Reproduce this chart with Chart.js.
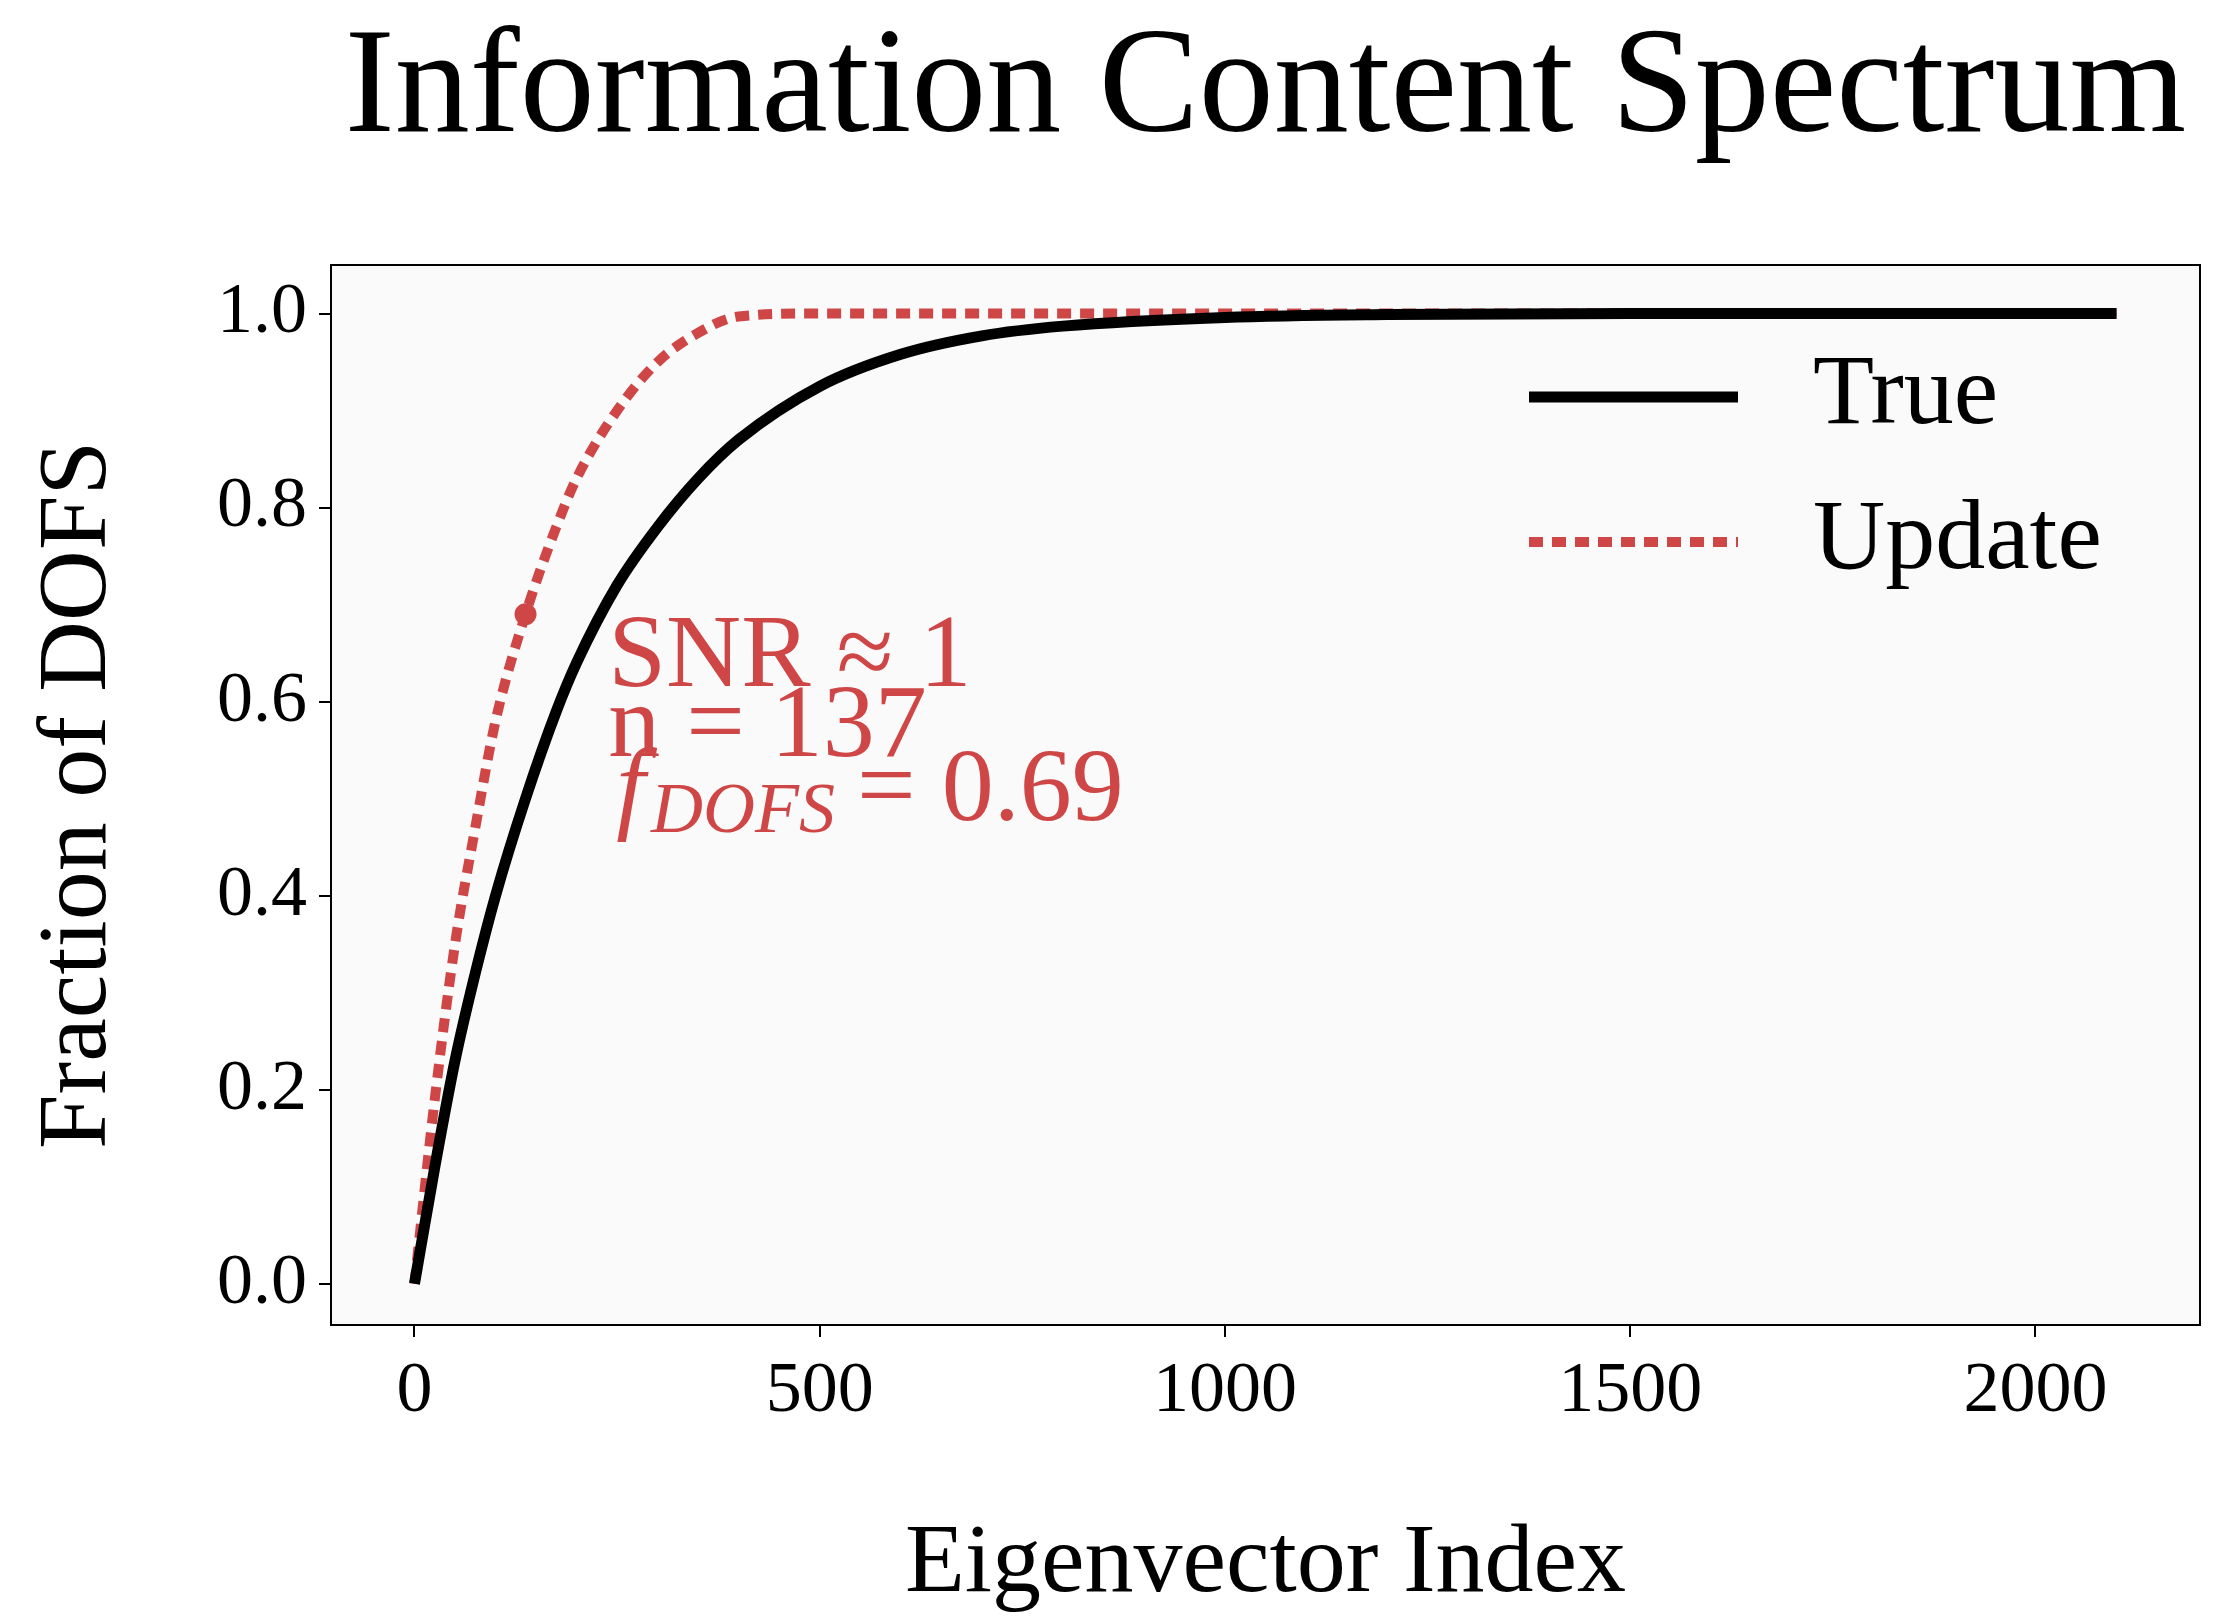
<!DOCTYPE html>
<html>
<head>
<meta charset="utf-8">
<script src="https://cdn.jsdelivr.net/npm/chart.js@4.4.0/dist/chart.umd.min.js"></script>
<style>
  html, body { margin: 0; padding: 0; background: #fff; }
  #wrap { width: 2219px; height: 1624px; }
</style>
</head>
<body>
<div id="wrap"><canvas id="chart"></canvas></div>
<script>
// values
const trueIdx = [0, 25, 50, 75, 100, 137, 175, 200, 250, 300, 350, 400, 500, 600, 700, 800, 1000, 1200, 1500, 2100];
const trueVals = [0, 0.12, 0.23, 0.32, 0.40, 0.50, 0.59, 0.64, 0.72, 0.78, 0.83, 0.87, 0.925, 0.958, 0.977, 0.987, 0.996, 0.999, 1.0, 1.0];
const updIdx = [0, 25, 50, 75, 100, 137, 175, 200, 250, 300, 350, 400, 500, 2100];
const updVals = [0, 0.19, 0.35, 0.47, 0.58, 0.69, 0.78, 0.83, 0.90, 0.95, 0.98, 0.997, 1.0, 1.0];
const snrPoint = { x: 137, y: 0.69 };
const annotLines = ['SNR \u2248 1', 'n = 137', '= 0.69'];
const xTicks = [0, 500, 1000, 1500, 2000];
const yTicks = [0, 0.2, 0.4, 0.6, 0.8, 1.0];
const seriesNames = ['True', 'Update'];
const titleText = 'Information Content Spectrum';

const RED = '#cf4647';
const FONT = '"Liberation Serif", "DejaVu Serif", serif';

const toPts = (xs, ys) => xs.map((x, i) => ({ x: x, y: ys[i] }));

const bgPlugin = {
    id: 'bg',
    beforeDraw(chart) {
        const a = chart.chartArea, ctx = chart.ctx;
        ctx.save();
        ctx.fillStyle = '#fafafa';
        ctx.fillRect(a.left, a.top, a.right - a.left, a.bottom - a.top);
        ctx.restore();
    }
};

const overlayPlugin = {
    id: 'overlay',
    afterDraw(chart) {
        const ctx = chart.ctx;
        const a = chart.chartArea;
        const xs = chart.scales.x;
        ctx.save();
        // frame
        ctx.strokeStyle = '#000';
        ctx.lineWidth = 2;
        ctx.strokeRect(a.left, a.top, a.right - a.left, a.bottom - a.top);

        // title centred over the plot
        ctx.fillStyle = '#000';
        ctx.font = '150px ' + FONT;
        ctx.textAlign = 'center';
        ctx.textBaseline = 'middle';
        ctx.fillText(titleText, (a.left + a.right) / 2, 92);
        ctx.textAlign = 'left';

        // legend
        const lx0 = 1529, lx1 = 1738, tx = 1813;
        const rows = [397, 542];
        ctx.lineCap = 'butt';
        ctx.lineWidth = 11;
        ctx.setLineDash([]);
        ctx.beginPath(); ctx.moveTo(lx0, rows[0]); ctx.lineTo(lx1, rows[0]); ctx.stroke();
        ctx.strokeStyle = RED;
        ctx.lineWidth = 10;
        ctx.setLineDash([14, 9]);
        ctx.beginPath(); ctx.moveTo(lx0, rows[1]); ctx.lineTo(lx1, rows[1]); ctx.stroke();
        ctx.setLineDash([]);
        ctx.font = '100px ' + FONT;
        ctx.fillText(seriesNames[0], tx, rows[0]);
        ctx.fillText(seriesNames[1], tx, rows[1]);

        // annotation
        const ax = xs.getPixelForValue(239);
        ctx.fillStyle = RED;
        ctx.textBaseline = 'alphabetic';
        ctx.font = '104px ' + FONT;
        ctx.fillText(annotLines[0], ax, 686);
        ctx.fillText(annotLines[1], ax, 756);
        ctx.font = 'italic 104px ' + FONT;
        ctx.fillText('f', ax + 8, 820);
        let w = ctx.measureText('f').width + 14;
        ctx.font = 'italic 72px ' + FONT;
        ctx.fillText('DOFS', ax + w, 832);
        w += ctx.measureText('DOFS').width + 22;
        ctx.font = '104px ' + FONT;
        ctx.fillText(annotLines[2], ax + w, 820);
        ctx.restore();
    }
};

new Chart(document.getElementById('chart'), {
    type: 'scatter',
    data: {
        datasets: [
            {
                label: seriesNames[0],
                data: toPts(trueIdx, trueVals),
                showLine: true,
                borderColor: '#000',
                borderWidth: 11,
                pointRadius: 0,
                cubicInterpolationMode: 'monotone'
            },
            {
                label: seriesNames[1],
                data: toPts(updIdx, updVals),
                showLine: true,
                borderColor: RED,
                borderWidth: 10,
                borderDash: [14, 9],
                pointRadius: 0,
                cubicInterpolationMode: 'monotone'
            },
            {
                label: 'snr',
                data: [snrPoint],
                pointRadius: 11,
                pointBackgroundColor: RED,
                pointBorderWidth: 0
            }
        ]
    },
    options: {
        responsive: true,
        maintainAspectRatio: false,
        animation: false,
        layout: { padding: { left: 20, right: 19, top: 265, bottom: 0 } },
        plugins: {
            legend: { display: false },
            tooltip: { enabled: false },
            title: { display: false }
        },
        scales: {
            x: {
                type: 'linear',
                min: -103,
                max: 2203,
                afterBuildTicks: s => { s.ticks = xTicks.map(v => ({ value: v })); },
                afterFit: s => { s.height = 299; },
                ticks: {
                    color: '#000',
                    font: { family: FONT, size: 72 },
                    padding: 12,
                    maxRotation: 0,
                    callback: v => String(v)
                },
                grid: { drawOnChartArea: false, color: '#000', lineWidth: 2, tickLength: 12 },
                border: { color: '#000', width: 2 },
                title: {
                    display: true,
                    text: 'Eigenvector Index',
                    color: '#000',
                    font: { family: FONT, size: 98 },
                    padding: { top: 40, bottom: 0 }
                }
            },
            y: {
                type: 'linear',
                min: -0.0425,
                max: 1.05,
                afterBuildTicks: s => { s.ticks = yTicks.map(v => ({ value: v })); },
                afterFit: s => { s.width = 311; },
                ticks: {
                    color: '#000',
                    font: { family: FONT, size: 72 },
                    padding: 12,
                    callback: v => v.toFixed(1)
                },
                grid: { drawOnChartArea: false, color: '#000', lineWidth: 2, tickLength: 12 },
                border: { color: '#000', width: 2 },
                title: {
                    display: true,
                    text: 'Fraction of DOFS',
                    color: '#000',
                    font: { family: FONT, size: 98 },
                    padding: { top: 0, bottom: 30 }
                }
            }
        }
    },
    plugins: [bgPlugin, overlayPlugin]
});
</script>
</body>
</html>
